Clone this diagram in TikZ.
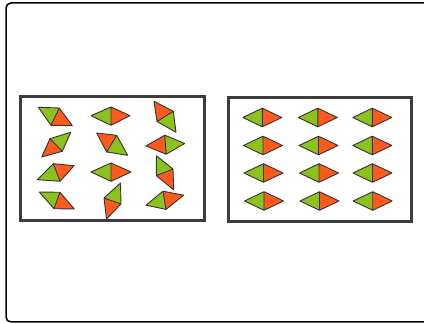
\documentclass[tikz,border=0pt]{standalone}
\definecolor{lgreen}{HTML}{8CC21E}
\definecolor{lorange}{HTML}{FF5A1E}
\definecolor{edge}{HTML}{333333}
\definecolor{boxline}{HTML}{3C3C3C}
\tikzset{
  piece/.style={draw=edge, line width=0.9pt, line join=round},
  frame/.style={draw=boxline, line width=3pt},
}
% a rhombus a-b-c-d split along b--d: triangle (a,b,d) in #1, triangle (b,c,d) in #2
\newcommand\rhomb[6]{%
  \fill[#1] #3 -- #4 -- #6 -- cycle;
  \fill[#2] #4 -- #5 -- #6 -- cycle;
  \draw[piece] #3 -- #4 -- #5 -- #6 -- cycle #4 -- #6;
}
\newcommand\dia[2]{\rhomb{lgreen}{lorange}{(#1-19.5,#2)}{(#1,#2-9.3)}{(#1+19.5,#2)}{(#1,#2+9.3)}}
\begin{document}
\begin{tikzpicture}[x=1pt,y=-1pt]
\useasboundingbox (0,0) rectangle (424,323);
\fill[white] (0,0) rectangle (424,323);
\begin{scope}
\clip (0,0) rectangle (424,323);
\draw[black, line width=1.5pt, rounded corners=5pt] (6,3) rectangle (440,322);
\end{scope}
% left box
\draw[frame] (20,97) rectangle (204,221);
\rhomb{lgreen}{lorange}{(38.3,107.3)}{(59.3,108)}{(72.3,125.7)}{(51,125.3)}
\rhomb{lgreen}{lorange}{(70.7,132.3)}{(50,138.7)}{(41.7,157)}{(62.3,151.3)}
\rhomb{lgreen}{lorange}{(37.3,179.7)}{(53.3,163.7)}{(74,165.7)}{(60,181.3)}
\rhomb{lgreen}{lorange}{(39.3,192)}{(60,192.3)}{(74.3,209)}{(54,208.7)}
\rhomb{lgreen}{lorange}{(91,115.7)}{(111,107)}{(130,115.7)}{(111,125.3)}
\rhomb{lorange}{lgreen}{(96.7,133)}{(116.7,135.3)}{(127.7,155.3)}{(106.7,152)}
\rhomb{lgreen}{lorange}{(91,172)}{(111,163)}{(131,172)}{(111,181.3)}
\rhomb{lgreen}{lorange}{(120.5,183)}{(104,198)}{(106.5,219)}{(121,204)}
\rhomb{lorange}{lgreen}{(154,101.3)}{(173.3,111.3)}{(176,132.3)}{(157,121.5)}
\rhomb{lorange}{lgreen}{(146,146)}{(164.7,135.2)}{(184.7,143.5)}{(166.2,154.2)}
\rhomb{lgreen}{lorange}{(156.3,155.7)}{(173,169)}{(173.7,189.8)}{(156.3,175.7)}
\rhomb{lgreen}{lorange}{(146,205.2)}{(163,191.2)}{(183.7,195.2)}{(166,209.4)}
% right box
\draw[frame] (228,98) rectangle (411,222);
\dia{262.3}{117.5}\dia{317.8}{117.5}\dia{372.3}{117.5}
\dia{263}{145.5}\dia{318.5}{145.5}\dia{372.3}{145.5}
\dia{263.5}{173}\dia{319}{173}\dia{372.5}{173}
\dia{264}{201}\dia{319.5}{201}\dia{372.7}{201}
\end{tikzpicture}
\end{document}
